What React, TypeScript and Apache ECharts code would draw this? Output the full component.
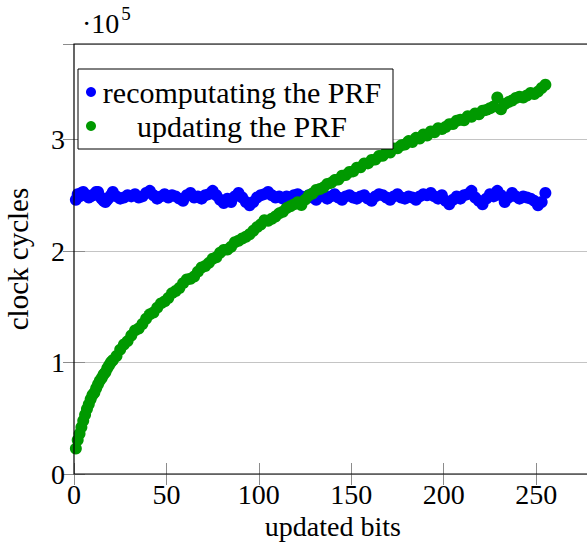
import React, { useEffect, useRef } from "react";
import * as echarts from "echarts";

// x values: number of updated bits
const bits = [
  1, 2, 3, 4, 5, 6, 7, 8, 9, 10, 11, 12, 13, 14, 15, 16, 17, 18, 19, 20,
  21, 23, 25, 27, 29, 31, 33, 35, 37, 39,
  41, 43, 45, 47, 49, 51, 53, 55, 57, 59, 61, 63, 65, 67, 69, 71, 73, 75, 77, 79,
  81, 83, 85, 87, 89, 91, 93, 95, 97, 99, 101, 103, 105, 107, 109, 111, 113, 115, 117, 119,
  121, 123, 125, 127, 129, 131, 133, 135, 137, 139, 141, 143, 145, 147, 149, 151, 153, 155, 157, 159,
  161, 163, 165, 167, 169, 171, 173, 175, 177, 179, 181, 183, 185, 187, 189, 191, 193, 195, 197, 199,
  201, 203, 205, 207, 209, 211, 213, 215, 217, 219, 221, 223, 225, 227, 229, 231, 233, 235, 237, 239,
  241, 243, 245, 247, 249, 251, 253, 255,
];

// clock cycles, recomputating the PRF
const recomputating = [
  246000, 251000, 249000, 252000, 253000, 250000, 250000, 248000, 249000, 250000,
  251000, 253000, 253000, 249000, 247000, 245000, 244000, 246000, 248000, 250000,
  253000, 249000, 247000, 248000, 250000, 249000, 251000, 248000, 249000, 252000,
  254000, 250000, 247000, 249000, 251000, 248000, 250000, 249000, 247000, 245000,
  250000, 252000, 248000, 249000, 247000, 250000, 251000, 254000, 250000, 246000,
  243000, 247000, 244000, 249000, 252000, 248000, 244000, 241000, 244000, 248000,
  250000, 251000, 253000, 250000, 248000, 249000, 247000, 249000, 248000, 250000,
  251000, 249000, 247000, 250000, 248000, 246000, 249000, 250000, 247000, 249000,
  251000, 248000, 246000, 249000, 250000, 248000, 247000, 249000, 250000, 247000,
  245000, 249000, 251000, 250000, 248000, 246000, 249000, 251000, 248000, 247000,
  249000, 248000, 246000, 249000, 251000, 250000, 252000, 249000, 247000, 250000,
  245000, 242000, 246000, 249000, 247000, 250000, 251000, 254000, 248000, 245000,
  242000, 247000, 251000, 249000, 254000, 250000, 244000, 248000, 252000, 249000,
  247000, 249000, 248000, 247000, 245000, 241000, 244000, 252000,
];

// clock cycles, updating the PRF
const updating = [
  22800, 30500, 36200, 42000, 47800, 53100, 58300, 62500, 67100, 70800,
  72900, 76900, 80600, 83800, 86200, 89300, 91200, 94800, 97500, 100200,
  102100, 105800, 111600, 116100, 119200, 124200, 128800, 130500, 134600, 139200,
  143200, 144900, 149200, 153000, 154800, 157900, 162200, 164100, 166800, 171200,
  174500, 175100, 177200, 181500, 185200, 186600, 189400, 193100, 194400, 198500,
  201000, 201400, 203800, 207900, 209200, 211200, 212800, 215000, 218200, 221400,
  223800, 227600, 227100, 228900, 231000, 233800, 235200, 238500, 240200, 241800,
  243700, 241200, 246100, 249800, 251600, 254800, 255600, 257100, 260200, 261100,
  263600, 264200, 267500, 268100, 270900, 271400, 274800, 275100, 278500, 278600,
  281600, 282000, 285200, 285400, 288500, 288400, 291900, 292100, 294800, 295500,
  298600, 297800, 301500, 300900, 304500, 303600, 307200, 306500, 310200, 309400,
  311200, 313800, 313900, 316900, 317800, 317200, 320900, 320400, 323300, 322600,
  325800, 326600, 328100, 329600, 337800, 327200, 331800, 333600, 335000, 337200,
  338400, 337600, 339500, 341800, 340800, 343000, 346200, 349200,
];

const seriesNames = ["recomputating the PRF", "updating the PRF"];
const seriesColors = ["#0000ff", "#009900"];

const FONT = "'Liberation Serif', 'Times New Roman', serif";
const TICK = "#8c8c8c";
const GRIDLINE = "#c4c4c4";

export default function App() {
  const ref = useRef<HTMLDivElement>(null);

  useEffect(() => {
    document.body.style.margin = "0";
    const chart = echarts.init(ref.current!, null, { renderer: "svg" });

    const dataA = bits.map((b, i) => [b, recomputating[i]]);
    const dataB = bits.map((b, i) => [b, updating[i]]);

    const tickStyle = { inside: true, length: 11, lineStyle: { color: TICK, width: 1 } };

    chart.setOption({
      animation: false,
      backgroundColor: "#ffffff",
      textStyle: { fontFamily: FONT },
      grid: {
        left: 74,
        top: 44,
        width: 517.6,
        height: 430,
        containLabel: false,
        outerBoundsMode: "none",
        show: true,
        borderColor: "#000",
        borderWidth: 1.2,
        backgroundColor: "transparent",
        z: 3,
      },
      xAxis: [
        {
          type: "value",
          min: 0,
          max: 280,
          interval: 50,
          position: "bottom",
          axisLine: { show: false },
          axisTick: tickStyle,
          axisLabel: { fontSize: 28, color: "#000", margin: 6, fontFamily: FONT, showMaxLabel: false },
          splitLine: { show: false },
          name: "updated bits",
          nameLocation: "middle",
          nameGap: 32,
          nameTextStyle: { fontSize: 28, color: "#000", fontFamily: FONT },
        },
        {
          type: "value",
          min: 0,
          max: 280,
          interval: 50,
          position: "top",
          axisLine: { show: false },
          axisTick: tickStyle,
          axisLabel: { show: false },
          splitLine: { show: false },
        },
      ],
      yAxis: [
        {
          type: "value",
          min: 0,
          max: 385700,
          interval: 100000,
          position: "left",
          axisLine: { show: false },
          axisTick: tickStyle,
          axisLabel: {
            fontSize: 28,
            color: "#000",
            margin: 9,
            fontFamily: FONT,
            showMaxLabel: false,
            formatter: (v: number) => String(Math.round(v / 1e5)),
          },
          splitLine: { show: true, lineStyle: { color: GRIDLINE, width: 1 } },
          name: "clock cycles",
          nameLocation: "middle",
          nameGap: 42,
          nameTextStyle: { fontSize: 29, color: "#000", fontFamily: FONT },
        },
        {
          type: "value",
          min: 0,
          max: 385700,
          interval: 100000,
          position: "right",
          axisLine: { show: false },
          axisTick: tickStyle,
          axisLabel: { show: false },
          splitLine: { show: false },
        },
      ],
      legend: {
        left: 78,
        top: 69,
        orient: "vertical",
        icon: "circle",
        itemWidth: 10,
        itemHeight: 10,
        itemGap: 4,
        padding: [8, 10, 8, 8],
        backgroundColor: "#fff",
        borderColor: "#000",
        borderWidth: 1,
        data: seriesNames,
        formatter: (name: string) => `{c|${name}}`,
        textStyle: {
          fontFamily: FONT,
          fontSize: 30,
          color: "#000",
          rich: {
            c: { width: 282, align: "center", fontSize: 30, lineHeight: 28, fontFamily: FONT, color: "#000" },
          },
        },
      },
      graphic: [
        {
          type: "text",
          x: 82,
          y: 4,
          style: {
            text: "{a|·10}{b|5}",
            verticalAlign: "top",
            align: "left",
            rich: {
              a: { fontSize: 28, fontFamily: FONT, fill: "#000", color: "#000", verticalAlign: "bottom" },
              b: {
                fontSize: 19,
                fontFamily: FONT,
                fill: "#000",
                color: "#000",
                verticalAlign: "top",
                padding: [0, 0, 14, 2],
              },
            },
          },
        },
      ],
      series: [
        {
          name: seriesNames[0],
          type: "scatter",
          data: dataA,
          symbol: "circle",
          symbolSize: 12,
          itemStyle: { color: seriesColors[0], opacity: 1 },
          xAxisIndex: 0,
          yAxisIndex: 0,
          z: 2,
        },
        {
          name: seriesNames[1],
          type: "scatter",
          data: dataB,
          symbol: "circle",
          symbolSize: 12,
          itemStyle: { color: seriesColors[1], opacity: 1 },
          xAxisIndex: 0,
          yAxisIndex: 0,
          z: 2,
        },
      ],
    });

    return () => chart.dispose();
  }, []);

  return (
    <div style={{ width: 587, height: 542, overflow: "hidden" }}>
      <div ref={ref} style={{ width: 600, height: 542 }} />
    </div>
  );
}
